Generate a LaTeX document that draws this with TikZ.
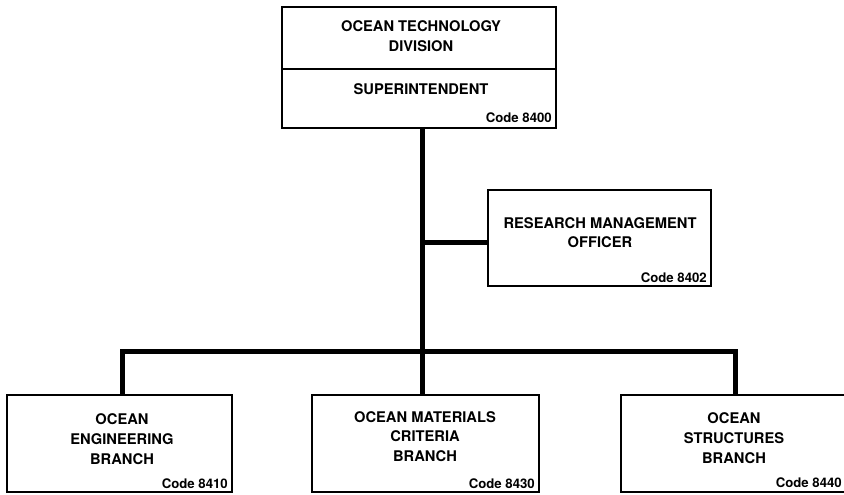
\documentclass[tikz,border=0pt]{standalone}
\usepackage{fontspec}
\setmainfont{TeX Gyre Heros}
\begin{document}
\begin{tikzpicture}[x=1pt,y=-1pt,
  box/.style={draw, line width=1.5pt, inner sep=0pt, outer sep=0pt},
  divline/.style={line width=1.5pt},
  conn/.style={line width=5pt},
  ttl/.style={font=\bfseries\fontsize{14.7}{16}\selectfont, anchor=base, inner sep=0pt},
  codetxt/.style={font=\bfseries\fontsize{13.2}{15}\selectfont, anchor=base east, inner sep=0pt}]
\useasboundingbox (0,0) rectangle (844,495);
% boxes
\node[box, minimum width=274pt, minimum height=121pt] (div) at (419,67.5) {};
\node[box, minimum width=223pt, minimum height=96pt] (rmo) at (599.5,238) {};
\node[box, minimum width=225pt, minimum height=97pt] (eng) at (119.5,443.5) {};
\node[box, minimum width=227pt, minimum height=97pt] (omc) at (425.5,443.5) {};
\node[box, minimum width=226pt, minimum height=97pt] (ost) at (734,443.5) {};
% divider in top box
\coordinate (dv) at (0,69);
\draw[divline] (div.west |- dv) -- (div.east |- dv);
% texts
\node[ttl] (t1) at (421,32) {OCEAN TECHNOLOGY};
\node[ttl] (t2) at (421,52) {DIVISION};
\node[ttl] (t3) at (421,95) {SUPERINTENDENT};
\node[codetxt] (c1) at ([xshift=-4pt,yshift=6pt]div.south east) {Code 8400};
\node[ttl] (r1) at (600,228) {RESEARCH MANAGEMENT};
\node[ttl] (r2) at (600,247) {OFFICER};
\node[codetxt] (c2) at ([xshift=-4pt,yshift=4pt]rmo.south east) {Code 8402};
\node[ttl] (e1) at (122,424) {OCEAN};
\node[ttl] (e2) at (122,444) {ENGINEERING};
\node[ttl] (e3) at (122,464) {BRANCH};
\node[codetxt] (c3) at ([xshift=-4pt,yshift=4pt]eng.south east) {Code 8410};
\node[ttl] (m1) at (425,422) {OCEAN MATERIALS};
\node[ttl] (m2) at (425,441) {CRITERIA};
\node[ttl] (m3) at (425,461) {BRANCH};
\node[codetxt] (c4) at ([xshift=-4pt,yshift=4pt]omc.south east) {Code 8430};
\node[ttl] (s1) at (734,423) {OCEAN};
\node[ttl] (s2) at (734,443) {STRUCTURES};
\node[ttl] (s3) at (734,463) {BRANCH};
\node[codetxt] (c5) at ([xshift=-5pt,yshift=5pt]ost.south east) {Code 8440};
% connectors
\coordinate (trunk) at (422,351);
\coordinate (rj) at (422,242);
\coordinate (lb) at (122,351);
\coordinate (rb) at (735,351);
\draw[conn] (div.south -| trunk) -- (trunk |- omc.north);
\draw[conn] (rj) -- (rj -| rmo.west);
\draw[conn] (eng.north -| lb) -- (lb) -- (rb) -- (rb |- ost.north);
\end{tikzpicture}
\end{document}
